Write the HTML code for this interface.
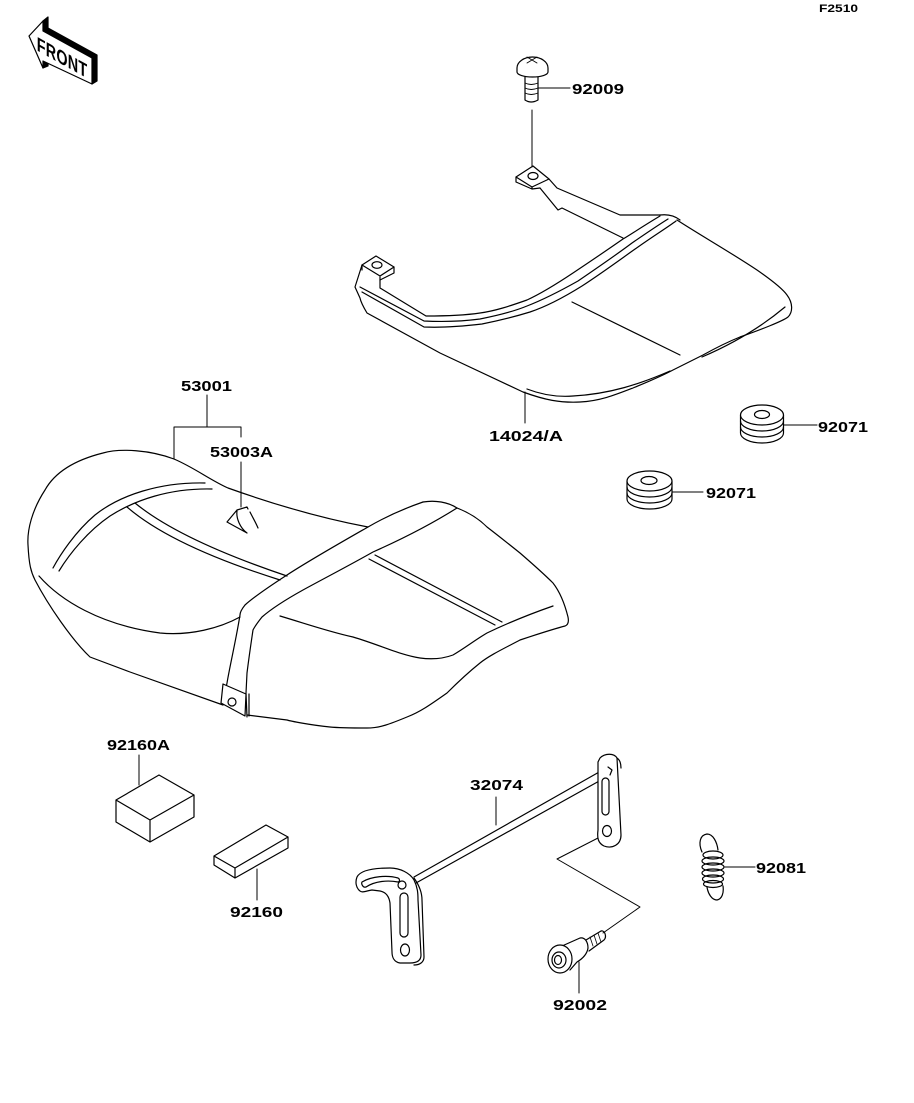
<!DOCTYPE html>
<html><head><meta charset="utf-8"><style>
html,body{margin:0;padding:0;background:#fff;}
svg{display:block;}
text{font-family:"Liberation Sans",sans-serif;font-weight:bold;fill:#000;}
</style></head><body>
<svg width="914" height="1103" viewBox="0 0 914 1103" xmlns="http://www.w3.org/2000/svg">
<rect width="914" height="1103" fill="#fff"/>
<g fill="none" stroke="#000" stroke-width="1.2" stroke-linejoin="round" stroke-linecap="round">

<!-- FRONT arrow -->
<path d="M43,21 L48,17 L48,28 L97,55 L97,81 L92,84 L92,58 L43,31 Z" fill="#000"/>
<path d="M43,61 L48,63 L48,66 L43,68 Z" fill="#000"/>
<path d="M29,36 L43,21 L43,31 L92,58 L92,84 L43,61 L43,68 Z" fill="#fff"/>

<!-- 92009 bolt -->
<path d="M517,68 A15.5,11 0 0 1 548,68 L548,72 A15.5,5 0 0 1 517,72 Z" fill="#fff"/>
<path d="M527,57 L537,63 M537,57 L527,63" stroke-width="0.9"/>
<path d="M525,77 L525,100 Q531,104 538,100 L538,77"/>
<path d="M525,83 Q531,86 538,83 M525,88 Q531,91 538,88 M525,93 Q531,96 538,93" stroke-width="0.9"/>
<path d="M538,88 L570,88" stroke-width="1"/>
<path d="M532,110 L532,167" stroke-width="1"/>

<!-- 14024/A carrier -->
<path d="M516,177 L533,166 L549,179 L532,187 Z"/>
<ellipse cx="533" cy="176" rx="5" ry="3.5"/>
<path d="M516,177 L516,182 L532,189 L532,187 M532,189 L540,188"/>
<path d="M549,179 L557,188 L620,215 L660,215"/>
<path d="M540,188 L558,210 L562,208 L623,238"/>
<path d="M660,215 C668,214 675,216 680,220"/>
<path d="M677,220 C700,235 730,252 757,270 C770,279 782,288 787,295 C793,303 793,312 788,317 C783,321 760,330 740,337 C725,343 712,350 703,355 L673,370 C660,377 645,383 633,388 C615,395 600,401 580,402 C560,403 545,400 523,392 L440,353 L367,313 C364,308 361,303 360,298 L355,287 L362,265"/>
<path d="M660,216 C640,228 630,235 623,239 C600,255 585,265 573,273 C555,285 540,294 527,300 C510,306 495,311 480,313 C460,316 440,316 426,316 L380,288 L380,277"/>
<path d="M360,287 L424,321 C445,322 465,321 480,319 C500,315 515,311 527,306 C545,299 562,290 578,281 C600,266 620,252 632,243 C648,232 660,224 668,219"/>
<path d="M362,292 L424,327 C445,328 465,326 482,324 C502,320 517,316 530,312 C548,306 566,296 582,286 C605,271 625,256 638,247 C655,235 668,227 676,221"/>
<path d="M362,265 L376,256 L394,267 L380,276 Z"/>
<ellipse cx="377" cy="265" rx="5" ry="3.3"/>
<path d="M394,267 L394,273 L380,280 M362,265 L362,270"/>
<path d="M527,389 C545,396 560,397 573,396 C610,394 640,384 670,371"/>
<path d="M702,357 C730,345 760,328 785,307"/>
<path d="M572,302 L680,355"/>
<path d="M525,392 L525,423" stroke-width="1"/>

<!-- 92071 washers -->
<path d="M740.5,415 L740.5,433 A21.5,10 0 0 0 783.5,433 L783.5,415" fill="#fff"/>
<ellipse cx="762" cy="415" rx="21.5" ry="10" fill="#fff"/>
<path d="M740.5,421 A21.5,10 0 0 0 783.5,421 M740.5,427 A21.5,10 0 0 0 783.5,427"/>
<ellipse cx="762" cy="414.5" rx="7.5" ry="4"/>
<path d="M784,425 L817,425" stroke-width="1"/>

<path d="M627,481 L627,499 A22.5,10 0 0 0 672,499 L672,481" fill="#fff"/>
<ellipse cx="649.5" cy="481" rx="22.5" ry="10" fill="#fff"/>
<path d="M627,487 A22.5,10 0 0 0 672,487 M627,493 A22.5,10 0 0 0 672,493"/>
<ellipse cx="649" cy="480.5" rx="8" ry="4"/>
<path d="M672,492 L703,492" stroke-width="1"/>

<!-- Seat 53001 -->
<path d="M174,459 C150,450 120,448 103,453 C75,460 55,472 45,490 C32,510 27,530 28,545 C29,565 31,572 35,580 C48,605 72,640 90,657 L130,672 L223,705"/>
<path d="M174,459 C195,468 210,480 228,488 C270,503 320,518 368,527"/>
<path d="M39,576 C60,600 100,625 160,633 C190,636 220,628 240,617"/>
<path d="M205,483 C160,482 120,495 95,515 C75,532 60,555 53,568"/>
<path d="M212,489 C170,488 135,500 110,516 C88,531 70,553 59,571"/>
<path d="M135,503 Q180,540 287,576"/>
<path d="M127,507 Q172,546 280,580"/>
<path d="M423,502 C400,510 380,520 368,527 C340,543 310,560 287,575 C270,586 255,596 245,605 C241,610 240,613 240,615 C236,640 230,665 227,683 L223,703"/>
<path d="M423,502 C435,500 448,502 457,508"/>
<path d="M457,508 C430,525 400,540 373,552 C350,565 325,578 303,590 C285,600 270,610 262,617 C258,622 255,626 253,630 C250,650 248,665 247,673 L246,693 L247,717"/>
<path d="M223,684 L246,694 L245,716 L221,703 Z" fill="#fff"/>
<path d="M249,694 L249,716"/>
<circle cx="232" cy="702" r="4"/>
<path d="M457,508 C470,513 480,520 487,527 C500,537 510,545 520,553 C535,566 547,577 553,583 C560,592 565,605 568,617 C569,622 568,625 565,626 C550,630 535,635 520,640 C505,648 490,655 480,663 C465,675 455,685 447,693 C430,705 420,712 407,717 C390,724 380,728 367,728 C350,728 340,728 330,727 C310,725 290,721 287,720 L247,715"/>
<path d="M280,616 C310,625 330,632 353,637 C380,645 400,655 420,658 C435,660 445,658 453,655 C465,648 475,640 487,633 C510,622 530,614 553,606"/>
<path d="M375,555 L502,622 M369,559 L495,625"/>
<!-- 53003A clip -->
<path d="M237,510 L227,522 L247,533 M237,510 L247,507 L248,509 M237,511 C236,518 240,528 247,533 M250,512 C253,518 256,523 258,528"/>
<!-- leaders seat -->
<path d="M207,395 L207,427 M174,427 L241,427 M174,427 L174,459 M241,427 L241,437 M241,462 L241,507" stroke-width="1"/>

<!-- 92160A / 92160 boxes -->
<path d="M116,800 L159,775 L194,795 L150,820 Z M116,800 L116,822 L150,842 L194,817 L194,795 M150,820 L150,842"/>
<path d="M139,755 L139,785" stroke-width="1"/>
<path d="M214,856 L266,825 L288,837 L235,868 Z M214,856 L214,865 L235,878 L288,848 L288,837 M235,868 L235,878"/>
<path d="M257,869 L257,900" stroke-width="1"/>

<!-- 32074 rod & brackets -->
<path d="M414,877 L608,767 M416,883 L610,775"/>
<path d="M600,758 C605,753 614,753 617,758 L621,835 C621,845 612,849 604,846 C598,843 597,838 598,830 L598,762 Z" fill="#fff"/>
<path d="M617,758 C620,760 621,764 621,768"/>
<rect x="602" y="778" width="7" height="37" rx="3.5"/>
<ellipse cx="607" cy="831" rx="4.5" ry="5.5"/>
<path d="M608,767 L612,770 L610,775"/>
<path d="M357,877 C360,871 370,868 390,868 C400,868 410,873 414,880 C418,888 418,895 418,900 L421,955 C421,961 416,963 410,963 L400,963 C394,962 392,957 392,952 L390,903 C389,896 386,892 380,891 L372,890 C366,891 362,893 360,891 C356,888 355,882 357,877 Z" fill="#fff"/>
<path d="M414,878 C419,885 422,892 422,900 L424,957 C424,962 420,965 414,965"/>
<path d="M362,882 C372,876 388,875 398,878 C400,879 400,882 398,882 C388,880 375,881 366,887 C363,888 361,884 362,882 Z"/>
<rect x="400" y="893" width="8" height="44" rx="4"/>
<ellipse cx="405" cy="950" rx="4.5" ry="6"/>
<circle cx="402" cy="885" r="4"/>
<path d="M496,797 L496,825" stroke-width="1"/>
<path d="M598,838 L557,859 L640,907 L603,933" stroke-width="1"/>

<!-- 92002 bolt -->
<path d="M586,940 L601,931 C605,930 607,937 604,940 L589,951"/>
<path d="M590,937 L593,946 M594,935 L597,944 M598,933 L601,942" stroke-width="0.8"/>
<path d="M562,946 L580,938 C585,937 588,942 588,948 C587,955 582,959 577,962 L570,970" fill="#fff"/>
<ellipse cx="560" cy="959" rx="12" ry="14" fill="#fff"/>
<ellipse cx="559" cy="960" rx="7" ry="8"/>
<ellipse cx="558" cy="960" rx="3.5" ry="4.5"/>
<path d="M579,962 L579,993" stroke-width="1"/>

<!-- 92081 spring -->
<path d="M702,852 C698,843 700,835 707,834 C713,834 717,842 718,850"/>
<ellipse cx="713" cy="855" rx="10" ry="4"/>
<ellipse cx="713" cy="861" rx="11" ry="4"/>
<ellipse cx="713" cy="867" rx="11" ry="4"/>
<ellipse cx="713" cy="873" rx="11" ry="4"/>
<ellipse cx="713" cy="879" rx="10.5" ry="4"/>
<ellipse cx="713" cy="884" rx="9.5" ry="3.5"/>
<path d="M707,887 C708,894 712,900 717,900 C722,899 724,893 723,886"/>
<path d="M725,867 L755,867" stroke-width="1"/>
</g>

<!-- FRONT text (condensed, skewed) -->
<text transform="skewY(29) scale(0.72,1)" x="51" y="30" font-size="20" textLength="70" lengthAdjust="spacing">FRONT</text>

<!-- labels -->
<g font-size="15">
<text x="819" y="12" font-size="11" textLength="39" lengthAdjust="spacingAndGlyphs">F2510</text>
<text x="572" y="94" textLength="52" lengthAdjust="spacingAndGlyphs">92009</text>
<text x="489" y="441" textLength="74" lengthAdjust="spacingAndGlyphs">14024/A</text>
<text x="181" y="391" textLength="51" lengthAdjust="spacingAndGlyphs">53001</text>
<text x="210" y="457" textLength="63" lengthAdjust="spacingAndGlyphs">53003A</text>
<text x="818" y="432" textLength="50" lengthAdjust="spacingAndGlyphs">92071</text>
<text x="706" y="498" textLength="50" lengthAdjust="spacingAndGlyphs">92071</text>
<text x="107" y="750" textLength="63" lengthAdjust="spacingAndGlyphs">92160A</text>
<text x="470" y="790" textLength="53" lengthAdjust="spacingAndGlyphs">32074</text>
<text x="756" y="873" textLength="50" lengthAdjust="spacingAndGlyphs">92081</text>
<text x="230" y="917" textLength="53" lengthAdjust="spacingAndGlyphs">92160</text>
<text x="553" y="1010" textLength="54" lengthAdjust="spacingAndGlyphs">92002</text>
</g>
</svg>
</body></html>
